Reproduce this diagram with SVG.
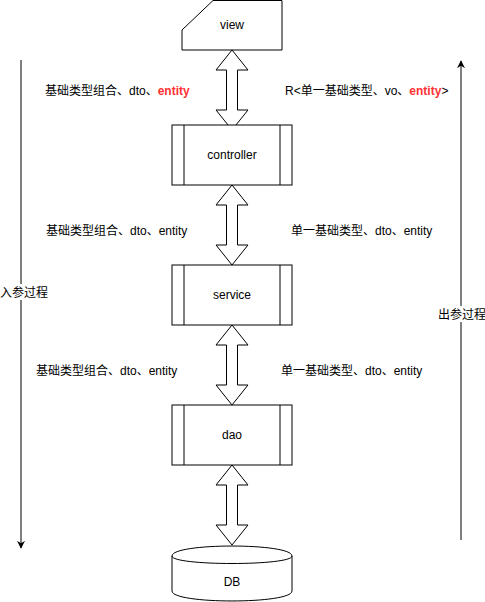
<svg xmlns="http://www.w3.org/2000/svg" width="485" height="602" viewBox="0 0 485 602">
<style>
.shape{fill:#fff;stroke:#000;stroke-width:1}
.t{font-family:"Liberation Sans","Noto Sans CJK SC",sans-serif;font-size:12px;fill:#000}
.c{text-anchor:middle}
.red{fill:#FF3333;font-weight:bold}
.line{stroke:#000;stroke-width:1;fill:none}
</style>
<defs>
<marker id="ah" viewBox="0 0 10 10" refX="9" refY="5" markerWidth="8" markerHeight="8" markerUnits="userSpaceOnUse" orient="auto">
<path d="M0,0 L10,5 L0,10 L3,5 Z" fill="#000"/>
</marker>
<polygon id="dbl" points="0,0 16,20 5.5,20 5.5,60 16,60 0,80 -16,60 -5.5,60 -5.5,20 -16,20"/>
</defs>
<rect width="485" height="602" fill="#fff"/>
<g id="connectors">
<line class="line" x1="21" y1="60" x2="21" y2="548" marker-end="url(#ah)"/>
<line class="line" x1="461" y1="540" x2="461" y2="61" marker-end="url(#ah)"/>
<use href="#dbl" x="232" y="50" class="shape" transform="translate(0,0)"/>
<use href="#dbl" x="232" y="185" class="shape"/>
<use href="#dbl" x="232" y="325" class="shape"/>
<use href="#dbl" x="232" y="465" class="shape"/>
</g>
<g id="view">
<polygon class="shape" points="213,0.5 282,0.5 282,50 182,50 182,30"/>
<text class="t c" x="232" y="29">view</text>
</g>
<g id="controller">
<rect class="shape" x="172" y="125" width="120" height="60"/>
<line class="line" x1="184" y1="125" x2="184" y2="185"/>
<line class="line" x1="280" y1="125" x2="280" y2="185"/>
<text class="t c" x="232" y="159">controller</text>
</g>
<g id="service">
<rect class="shape" x="172" y="265" width="120" height="60"/>
<line class="line" x1="184" y1="265" x2="184" y2="325"/>
<line class="line" x1="280" y1="265" x2="280" y2="325"/>
<text class="t c" x="232" y="299">service</text>
</g>
<g id="dao">
<rect class="shape" x="172" y="405" width="120" height="60"/>
<line class="line" x1="184" y1="405" x2="184" y2="465"/>
<line class="line" x1="280" y1="405" x2="280" y2="465"/>
<text class="t c" x="232" y="439">dao</text>
</g>
<g id="db">
<path class="shape" d="M172,556 C172,542.7 292,542.7 292,556 L292,591 C292,604.3 172,604.3 172,591 Z"/>
<path class="line" d="M172,556 C172,566 292,566 292,556"/>
<text class="t c" x="232" y="586">DB</text>
</g>
<g id="labels">
<rect x="0" y="284" width="46" height="16" fill="#fff"/>
<text class="t c" x="24" y="297">入参过程</text>
<rect x="437" y="306" width="48" height="16" fill="#fff"/>
<text class="t c" x="462" y="319">出参过程</text>
<text class="t" x="45" y="95">基础类型组合、dto、<tspan class="red">entity</tspan></text>
<text class="t" x="285" y="95">R&lt;单一基础类型、vo、<tspan class="red">entity</tspan>&gt;</text>
<text class="t" x="46" y="235">基础类型组合、dto、entity</text>
<text class="t" x="291" y="235">单一基础类型、dto、entity</text>
<text class="t" x="36" y="375">基础类型组合、dto、entity</text>
<text class="t" x="281" y="375">单一基础类型、dto、entity</text>
</g>
</svg>
